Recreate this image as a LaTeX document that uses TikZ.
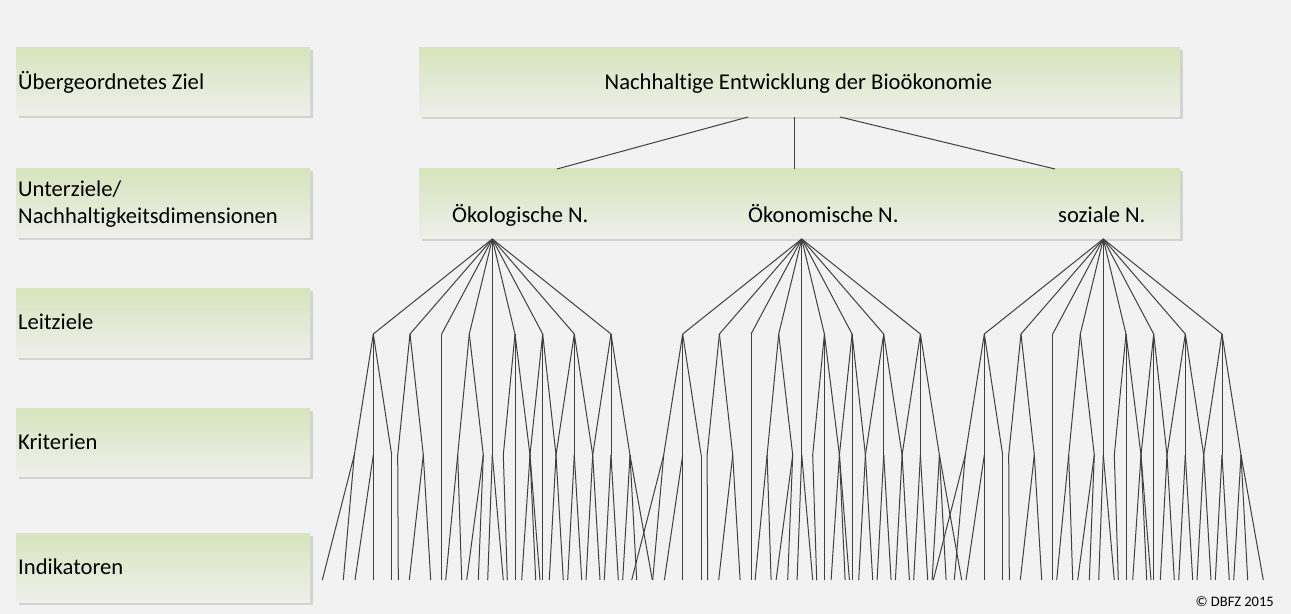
\documentclass[tikz,border=0pt]{standalone}
\usepackage{fontspec}
\setmainfont{Carlito}[Ligatures=NoCommon]
\definecolor{bgc}{HTML}{F2F2F2}
\definecolor{gtop}{HTML}{D7E4BD}
\definecolor{gbot}{HTML}{EFEFEB}
\definecolor{shad}{HTML}{D3D3D3}
\definecolor{lnc}{HTML}{404040}
\tikzset{
  lvlbox/.style={anchor=north west, inner sep=0pt, outer sep=0pt,
    top color=gtop, bottom color=gbot, draw=none,
    preaction={fill=shad, transform canvas={shift={(2.5bp,-2.5bp)}}}},
  lbl/.style={font=\fontsize{22.6bp}{27bp}\selectfont, inner sep=0pt, text=black},
  conn/.style={draw=lnc, line width=1bp},
}
\begin{document}
\begin{tikzpicture}[x=1bp,y=-1bp]
\useasboundingbox (0,0) rectangle (1291,614);
\fill[bgc] (0,0) rectangle (1291,614);
% left level boxes
\node[lvlbox, minimum width=294bp, minimum height=68bp] (b1) at (16,48) {};
\node[lvlbox, minimum width=294bp, minimum height=69bp] (b2) at (16,169) {};
\node[lvlbox, minimum width=294bp, minimum height=68bp] (b3) at (16,289) {};
\node[lvlbox, minimum width=294bp, minimum height=68bp] (b4) at (16,408) {};
\node[lvlbox, minimum width=294bp, minimum height=69bp] (b5) at (16,533) {};
% right boxes
\node[lvlbox, minimum width=761bp, minimum height=69bp] (goal) at (419,48) {};
\node[lvlbox, minimum width=761bp, minimum height=70bp] (dims) at (419,169) {};
% labels
\node[lbl, anchor=base west] (t1) at (18,90) {Übergeordnetes Ziel};
\node[lbl, anchor=base west] (t2a) at (18,197) {Unterziele/};
\node[lbl, anchor=base west] (t2b) at (18,224) {Nachhaltigkeitsdimensionen};
\node[lbl, anchor=base west] (t3) at (18,330) {Leitziele};
\node[lbl, anchor=base west] (t4) at (18,449) {Kriterien};
\node[lbl, anchor=base west] (t5) at (18,574) {Indikatoren};
\node[lbl, anchor=base] (tg) at (798.5,90) {Nachhaltige Entwicklung der Bioökonomie};
\node[lbl, anchor=base west] (d1) at (452,223) {Ökologische N.};
\node[lbl, anchor=base west] (d2) at (748,223) {Ökonomische N.};
\node[lbl, anchor=base west] (d3) at (1058,223) {soziale N.};
\node[font=\fontsize{14.5bp}{16bp}\selectfont, inner sep=0pt, anchor=base east] (cp) at (1274,606) {© DBFZ 2015};
% top connectors
\coordinate (ga1) at (748,117);
\coordinate (ga2) at (794,117);
\coordinate (ga3) at (840,117);
\coordinate (da1) at (557,169);
\coordinate (da2) at (794,169);
\coordinate (da3) at (1055,169);
\draw[conn] (ga1) -- (da1);
\draw[conn] (ga2) -- (da2);
\draw[conn] (ga3) -- (da3);
% trees
\foreach \g/\gx in {1/492.3, 2/801.7, 3/1103.3} {
  \coordinate (r\g) at (\gx,239);
  \foreach \i/\dx in {1/-119, 2/-82.3, 3/-50.6, 4/-23, 5/0, 6/22.7, 7/50.4, 8/82, 9/118.7} {
    \coordinate (g\g l\i) at ({\gx+(\dx)},334);
    \draw[conn] (r\g) -- (g\g l\i);
  }
  \foreach \c/\dx/\pars/\inds in {
     1/-138/{1}/{-170,-149},
     2/-119/{1}/{-137.3,-119},
     3/-100.6/{1}/{-100.6},
     4/-94.6/{2}/{-94},
     5/-69/{2}/{-83,-61.6},
     6/-50.6/{3}/{-50.6},
     7/-34.6/{4}/{-46.6,-30.6},
     8/-9/{4}/{-25.6,-14},
     9/0/{5}/{-4.6,11},
     10/11/{6}/{15},
     11/22.7/{6}/{22.7},
     12/37.7/{6,7}/{29.4,43.4,47.7},
     13/50.4/{7}/{50.4},
     14/63.7/{7,8}/{57,71},
     15/82/{8}/{75.4,89.4},
     16/100.4/{8,9}/{93.7,107.7},
     17/118.7/{9}/{112,126},
     18/137.7/{9}/{130.4,144.4,160}} {
    \coordinate (g\g c\c) at ({\gx+(\dx)},455);
    \foreach \p in \pars { \draw[conn] (g\g l\p) -- (g\g c\c); }
    \foreach \k [count=\n] in \inds {
      \coordinate (g\g c\c i\n) at ({\gx+(\k)},580);
      \draw[conn] (g\g c\c) -- (g\g c\c i\n);
    }
  }
}
\end{tikzpicture}
\end{document}
